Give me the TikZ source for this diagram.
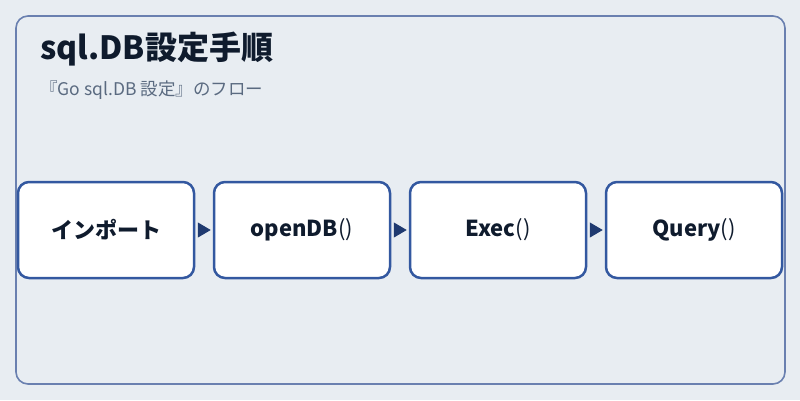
\documentclass[tikz,border=0pt]{standalone}
\usepackage{fontspec}
\setmainfont{Noto Sans CJK JP}
\usetikzlibrary{arrows.meta}
\definecolor{bg}{HTML}{E8EDF2}
\definecolor{frame}{HTML}{6A80B0}
\definecolor{boxline}{HTML}{3358A0}
\definecolor{arrowc}{HTML}{1F3A70}
\definecolor{titlec}{HTML}{0F1B2D}
\definecolor{subc}{HTML}{5A6A80}
\newcommand{\pp}{{\mdseries()}}
\tikzset{
  stepbox/.style={draw=boxline, line width=2.5pt, fill=white, rounded corners=11pt,
    minimum width=176pt, minimum height=96pt, inner sep=0pt,
    font=\fontsize{22pt}{25pt}\selectfont\bfseries, text=titlec},
  flow/.style={draw=arrowc, line width=1pt, -{Triangle[length=13pt,width=15pt]}, arrowc, shorten >=2pt, shorten <=3pt}
}
\begin{document}
\begin{tikzpicture}[x=1pt,y=-1pt]
\useasboundingbox[fill=bg] (0,0) rectangle (800,400);
\draw[frame, line width=1.6pt, rounded corners=12pt] (16,16) rectangle (785,384);
\node[anchor=base west, text=titlec, font=\fontsize{32pt}{36pt}\selectfont\bfseries, inner sep=0pt] (title) at (40,59) {sql.DB設定手順};
\node[anchor=base west, text=subc, font=\fontsize{17.5pt}{20pt}\selectfont, inner sep=0pt] (sub) at (40,95) {『Go sql.DB 設定』のフロー};
\node[stepbox] (a) at (106,230) {インポート};
\node[stepbox] (b) at (302,230) {openDB\pp};
\node[stepbox] (c) at (498,230) {Exec\pp};
\node[stepbox] (d) at (694,230) {Query\pp};
\draw[flow] (a.east) -- (b.west);
\draw[flow] (b.east) -- (c.west);
\draw[flow] (c.east) -- (d.west);
\end{tikzpicture}
\end{document}
